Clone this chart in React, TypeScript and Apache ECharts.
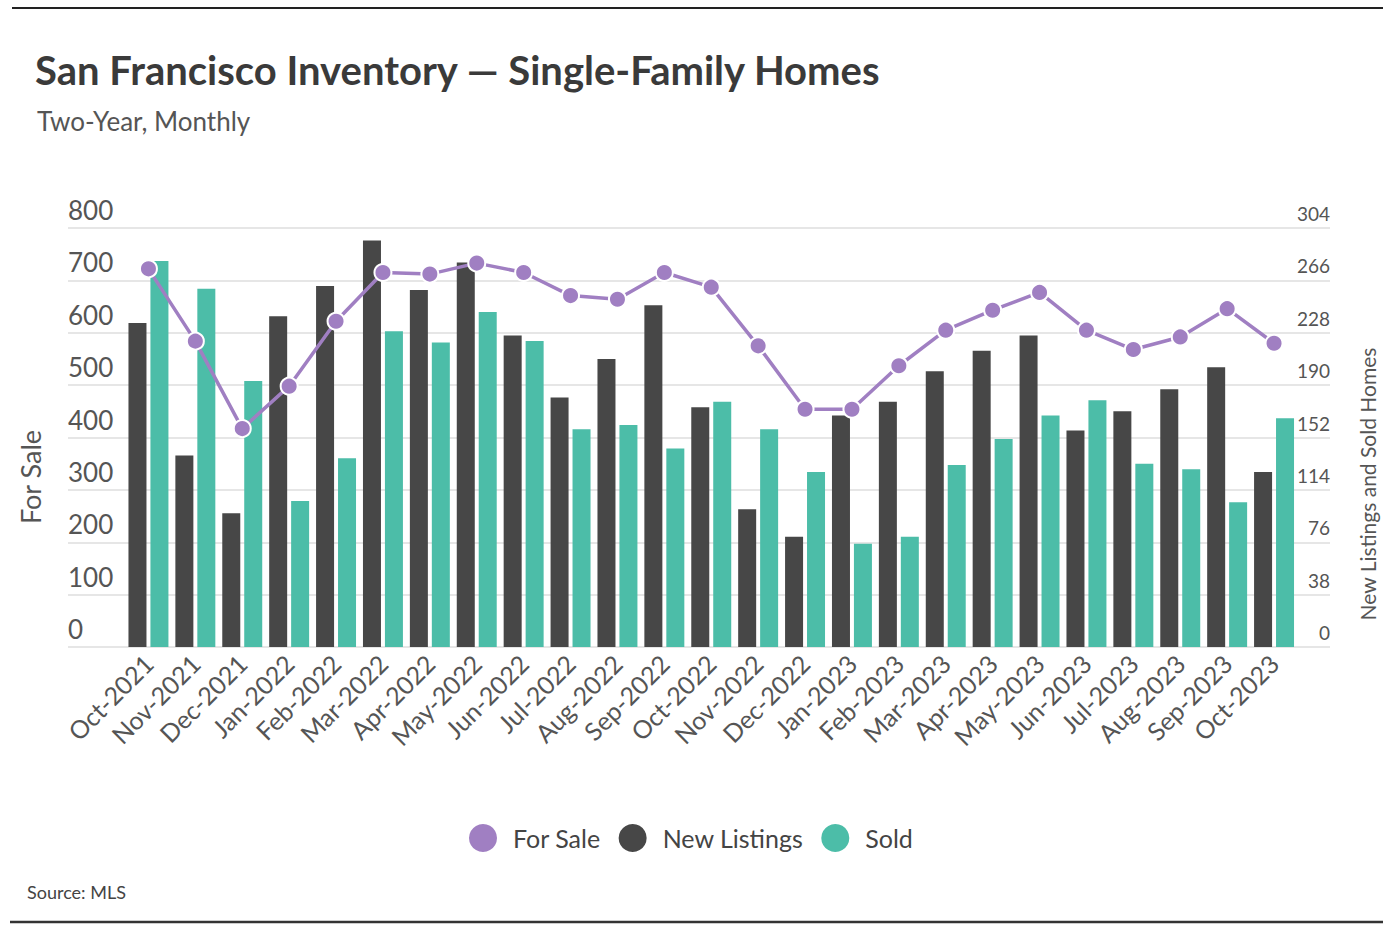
import React, { useEffect, useRef } from "react";
import * as echarts from "echarts";

const months = [
  "Oct-2021", "Nov-2021", "Dec-2021", "Jan-2022", "Feb-2022", "Mar-2022", "Apr-2022",
  "May-2022", "Jun-2022", "Jul-2022", "Aug-2022", "Sep-2022", "Oct-2022", "Nov-2022",
  "Dec-2022", "Jan-2023", "Feb-2023", "Mar-2023", "Apr-2023", "May-2023", "Jun-2023",
  "Jul-2023", "Aug-2023", "Sep-2023", "Oct-2023",
];

const forSale = [722, 584, 417, 498, 622, 715, 712, 733, 715, 671, 664, 715, 687, 575, 454, 454, 537, 605, 643, 677, 605, 568, 592, 646, 580];
const newListings = [235, 139, 97, 240, 262, 295, 259, 279, 226, 181, 209, 248, 174, 100, 80, 168, 178, 200, 215, 226, 157, 171, 187, 203, 127];
const sold = [280, 260, 193, 106, 137, 229, 221, 243, 222, 158, 161, 144, 178, 158, 127, 75, 80, 132, 151, 168, 179, 133, 129, 105, 166];

const FONT = "Lato, 'Noto Sans', sans-serif";
const PURPLE = "#a07fc2";
const DARK = "#474747";
const TEAL = "#4cbda8";

export default function App() {
  const ref = useRef<HTMLDivElement>(null);

  useEffect(() => {
    if (!ref.current) return;
    const chart = echarts.init(ref.current, undefined, { renderer: "svg" });
    const option: any = {
      animation: false,
      backgroundColor: "#ffffff",
      textStyle: { fontFamily: FONT },
      grid: [
        { left: 68, right: 64, top: 228, bottom: 285 },
        { left: 125, right: 96.5, top: 228, bottom: 285 },
      ],
      xAxis: [
        { type: "value", gridIndex: 0, min: 0, max: 1, show: false },
        {
          type: "category",
          gridIndex: 1,
          data: months,
          axisLine: { show: false },
          axisTick: { show: false },
          axisLabel: {
            rotate: 45,
            margin: 12,
            interval: 0,
            fontSize: 25,
            color: "#555",
            fontFamily: FONT,
          },
        },
      ],
      yAxis: [
        {
          type: "value",
          gridIndex: 0,
          position: "left",
          min: 0,
          max: 800,
          interval: 100,
          axisLine: { show: false },
          axisTick: { show: false },
          splitLine: { lineStyle: { color: "#dedede", width: 1.5 } },
          axisLabel: {
            inside: true,
            margin: 0,
            verticalAlign: "bottom",
            padding: [0, 0, 5, 0],
            fontSize: 26,
            color: "#555",
            fontFamily: FONT,
          },
        },
        {
          type: "value",
          gridIndex: 0,
          position: "right",
          min: 0,
          max: 304,
          interval: 38,
          axisLine: { show: false },
          axisTick: { show: false },
          splitLine: { show: false },
          axisLabel: {
            inside: true,
            margin: 0,
            verticalAlign: "bottom",
            padding: [0, 0, 5, 0],
            fontSize: 19,
            color: "#555",
            fontFamily: FONT,
          },
        },
        { type: "value", gridIndex: 1, min: 0, max: 800, show: false },
        { type: "value", gridIndex: 1, min: 0, max: 304, show: false },
      ],
      legend: {
        left: 464,
        top: 819,
        icon: "circle",
        itemWidth: 28,
        itemHeight: 28,
        itemGap: 18,
        itemStyle: { borderWidth: 0 },
        textStyle: { fontSize: 25, color: "#444", fontFamily: FONT, padding: [0, 0, 0, 11] },
        data: ["For Sale", "New Listings", "Sold"],
      },
      series: [
        {
          name: "New Listings",
          type: "bar",
          xAxisIndex: 1,
          yAxisIndex: 3,
          data: newListings,
          barWidth: 18,
          barGap: "22%",
          itemStyle: { color: DARK },
        },
        {
          name: "Sold",
          type: "bar",
          xAxisIndex: 1,
          yAxisIndex: 3,
          data: sold,
          barWidth: 18,
          barGap: "22%",
          itemStyle: { color: TEAL },
        },
        {
          name: "For Sale",
          type: "line",
          xAxisIndex: 1,
          yAxisIndex: 2,
          data: forSale,
          symbol: "circle",
          symbolSize: 17,
          z: 5,
          lineStyle: { color: PURPLE, width: 3.5 },
          itemStyle: { color: PURPLE, borderColor: "#ffffff", borderWidth: 2 },
        },
      ],
      graphic: [
        { type: "line", shape: { x1: 12, y1: 8, x2: 1383, y2: 8 }, style: { stroke: "#222", lineWidth: 2 } },
        { type: "line", shape: { x1: 10, y1: 922, x2: 1383, y2: 922 }, style: { stroke: "#333", lineWidth: 2.5 } },
        {
          type: "text",
          left: 35,
          top: 50,
          style: { text: "San Francisco Inventory — Single-Family Homes", fontSize: 40, fontWeight: "bold", fill: "#3a3a3a", fontFamily: FONT },
        },
        {
          type: "text",
          left: 37,
          top: 108,
          style: { text: "Two-Year, Monthly", fontSize: 26, fill: "#555", fontFamily: FONT },
        },
        {
          type: "text",
          x: 30,
          y: 477,
          rotation: Math.PI / 2,
          style: { text: "For Sale", fontSize: 27, fill: "#555", fontFamily: FONT, align: "center", verticalAlign: "middle" },
        },
        {
          type: "text",
          x: 1367,
          y: 484,
          rotation: Math.PI / 2,
          style: { text: "New Listings and Sold Homes", fontSize: 21, fill: "#555", fontFamily: FONT, align: "center", verticalAlign: "middle" },
        },
        {
          type: "text",
          left: 27,
          top: 883,
          style: { text: "Source: MLS", fontSize: 18, fill: "#444", fontFamily: FONT },
        },
      ],
    };
    chart.setOption(option);
    return () => chart.dispose();
  }, []);

  return (
    <div
      ref={ref}
      style={{ position: "fixed", left: 0, top: 0, width: 1394, height: 932, background: "#fff" }}
    />
  );
}
